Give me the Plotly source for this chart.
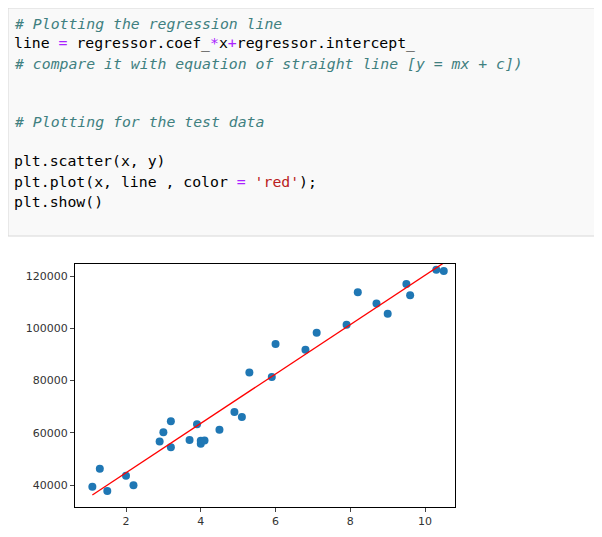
import plotly.graph_objects as go
import numpy as np

x = [1.1,1.3,1.5,2.0,2.2,2.9,3.0,3.2,3.2,3.7,3.9,4.0,4.0,4.1,4.5,4.9,5.1,5.3,5.9,6.0,6.8,7.1,7.9,8.2,8.7,9.0,9.5,9.6,10.3,10.5]
y = [39343,46205,37731,43525,39891,56642,60150,54445,64445,57189,63218,55794,56957,57081,61111,67938,66029,83088,81363,93940,91738,98273,101302,113812,109431,105582,116969,112635,122391,121872]
coef, intercept = np.polyfit(x, y, 1)
line = [coef*v + intercept for v in x]

OFF = 8
W, H = 602 - 2*OFF, 537 - 2*OFF
def px(v): return (v - OFF) / W
def py(v): return 1 - (v - OFF) / H

fig = go.Figure()
fig.add_trace(go.Scatter(x=x, y=y, mode="markers", marker=dict(color="#1f77b4", size=8), cliponaxis=False))
fig.add_trace(go.Scatter(x=x, y=line, mode="lines", line=dict(color="red", width=1.3)))

C = "#408080"
mono = "DejaVu Sans Mono"
code_lines = [
    (23, "<i># Plotting the regression line</i>", C),
    (43, "line <span style='color:#aa22ff'>=</span> regressor.coef_<span style='color:#aa22ff'>*</span>x<span style='color:#aa22ff'>+</span>regressor.intercept_", "#000"),
    (63, "<i># compare it with equation of straight line [y = mx + c])</i>", C),
    (122, "<i># Plotting for the test data</i>", C),
    (161, "plt.scatter(x, y)", "#000"),
    (181, "plt.plot(x, line , color <span style='color:#aa22ff'>=</span> <span style='color:#ba2121'>'red'</span>);", "#000"),
    (201, "plt.show()", "#000"),
]
annotations = []
for yy, t, col in code_lines:
    annotations.append(dict(x=px(12), y=py(yy), xref="paper", yref="paper", text=t,
                            showarrow=False, xanchor="left", yanchor="middle",
                            font=dict(family=mono, size=14.8, color=col)))

fig.update_layout(
    width=W, height=H, margin=dict(l=0, r=0, t=0, b=0),
    paper_bgcolor="white", plot_bgcolor="white", showlegend=False,
    annotations=annotations,
    shapes=[dict(type="rect", xref="paper", yref="paper", x0=px(8), x1=1.01, y0=py(236), y1=1,
                 line=dict(color="#d8d8d8", width=1), fillcolor="#f9f9f9", layer="below")],
    xaxis=dict(domain=[px(75), px(455)], range=[0.636, 10.80], tickvals=[2,4,6,8,10],
               showgrid=False, zeroline=False, showline=True, mirror=True, linecolor="black",
               ticks="outside", ticklen=4, tickfont=dict(family="DejaVu Sans", size=11, color="#333")),
    yaxis=dict(domain=[py(507), py(264)], range=[31579, 124593], tickvals=[40000,60000,80000,100000,120000],
               tickformat="d",
               showgrid=False, zeroline=False, showline=True, mirror=True, linecolor="black",
               ticks="outside", ticklen=4, tickfont=dict(family="DejaVu Sans", size=11, color="#333")),
)
fig.write_html("out.html")
